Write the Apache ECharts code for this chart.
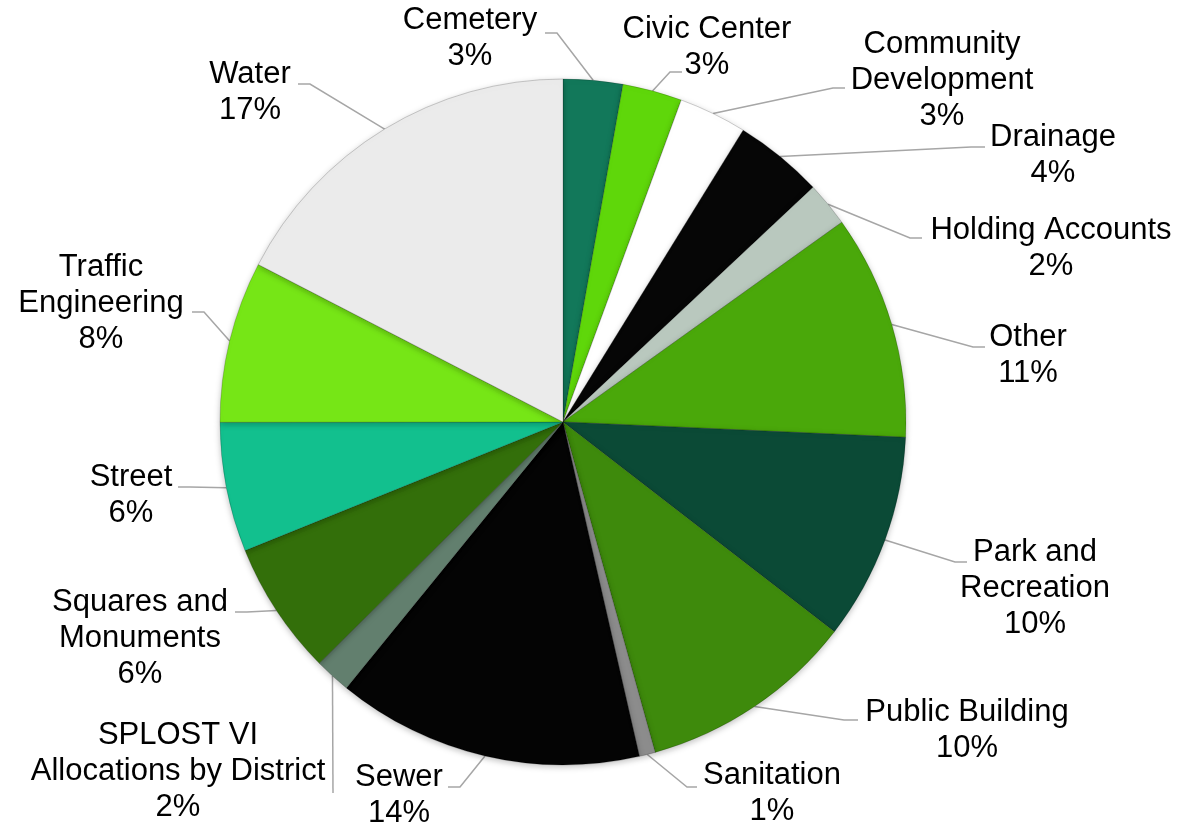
<!DOCTYPE html>
<html>
<head>
<meta charset="utf-8">
<script src="https://cdn.jsdelivr.net/npm/echarts@6/dist/echarts.min.js"></script>
<style>
html,body{margin:0;padding:0;background:#fff;}
#chart{width:1197px;height:825px;}
</style>
</head>
<body>
<div id="chart"></div>
<script>
// ---- data ----
var categories = ['Cemetery','Civic Center','Community\nDevelopment','Drainage','Holding Accounts','Other','Park and\nRecreation','Public Building','Sanitation','Sewer','SPLOST VI\nAllocations by District','Squares and\nMonuments','Street','Traffic\nEngineering','Water'];
var shares = [2.8, 2.8, 3.2, 4.2, 2.1, 10.6, 9.75, 10.2, 0.75, 14.45, 1.7, 6.3, 6.1, 7.6, 17.4];
var sliceColors = ['#12785a','#5fd70a','#ffffff','#060606','#b9c8be','#4aa80a','#0b4a36','#3e8a0c','#8c8c8c','#040404','#627f6e','#336f0a','#12c08e','#76e616','#ebebeb'];

// ---- label layout (label centre, leader attach point, horizontal stub) ----
var labelPos = [
  {x:470, y:38,  ax:545, ay:33,  stub:12},
  {x:707, y:47,  ax:682, ay:72,  stub:-12},
  {x:942, y:80,  ax:845, ay:88,  stub:-12},
  {x:1053,y:155, ax:985, ay:147, stub:-14},
  {x:1051,y:248, ax:922, ay:238, stub:-12},
  {x:1028,y:355, ax:985, ay:347, stub:-12},
  {x:1035,y:588, ax:967, ay:562, stub:-12},
  {x:967, y:730, ax:858, ay:720, stub:-14},
  {x:772, y:793, ax:697, ay:787, stub:-10},
  {x:399, y:795, ax:448, ay:787, stub:12},
  {x:178, y:771, ax:333, ay:793, stub:0},
  {x:140, y:638, ax:235, ay:612, stub:12},
  {x:131, y:495, ax:178, ay:487, stub:12},
  {x:101, y:303, ax:192, ay:312, stub:12},
  {x:250, y:92,  ax:298, ay:84,  stub:12}
];

var data = categories.map(function(c, i){
  return {name:c, value:shares[i], itemStyle:{color:sliceColors[i]}};
});

var chart = echarts.init(document.getElementById('chart'), null, {renderer:'canvas'});
chart.setOption({
  backgroundColor:'#ffffff',
  animation:false,
  series:[{
    type:'pie',
    center:[563,422],
    radius:[0,343],
    startAngle:90,
    clockwise:true,
    avoidLabelOverlap:false,
    data:data,
    itemStyle:{
      borderColor:'rgba(0,0,0,0.18)',
      borderWidth:1,
      shadowBlur:6,
      shadowColor:'rgba(0,0,0,0.25)',
      shadowOffsetY:2
    },
    label:{
      show:true,
      position:'outside',
      color:'#000',
      fontFamily:'Liberation Sans, Arial, sans-serif',
      fontSize:31,
      lineHeight:36,
      formatter:function(p){ return p.name + '\n' + Math.round(p.percent) + '%'; }
    },
    labelLine:{
      show:true,
      length:10,
      length2:10,
      lineStyle:{color:'#a6a6a6', width:1.5}
    },
    labelLayout:function(params){
      var lp = labelPos[params.dataIndex];
      var pts = params.labelLinePoints;
      var edge = pts ? pts[0] : [lp.ax, lp.ay];
      return {
        x: lp.x,
        y: lp.y,
        align:'center',
        verticalAlign:'middle',
        labelLinePoints:[edge, [lp.ax + lp.stub, lp.ay], [lp.ax, lp.ay]]
      };
    }
  }]
});
</script>
</body>
</html>
